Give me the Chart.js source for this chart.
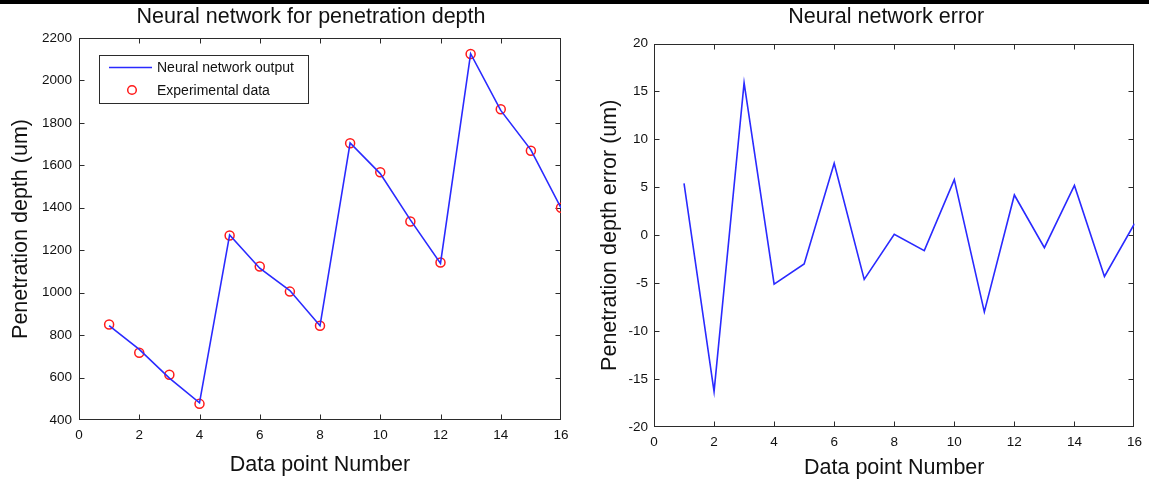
<!DOCTYPE html>
<html>
<head>
<meta charset="utf-8">
<script src="https://cdn.jsdelivr.net/npm/chart.js@4.4.1/dist/chart.umd.min.js"></script>
<style>
  html, body { margin: 0; padding: 0; background: #fff; }
  #wrap { position: relative; width: 1149px; height: 482px; overflow: hidden; background: #fff; }
  #topbar { position: absolute; left: 0; top: 0; width: 1149px; height: 4px; background: #000; z-index: 5; }
  #c1 { position: absolute; left: 0; top: 0; }
  #c2 { position: absolute; left: 585px; top: 0; }
</style>
</head>
<body>
<div id="wrap">
  <div id="topbar"></div>
  <canvas id="c1" width="580" height="482"></canvas>
  <canvas id="c2" width="564" height="482"></canvas>
</div>
<script>
// ---- data ----
const pointNumbers = [1, 2, 3, 4, 5, 6, 7, 8, 9, 10, 11, 12, 13, 14, 15, 16];
const experimentalDepth = [850, 717, 613, 476, 1269, 1123, 1005, 844, 1704, 1567, 1335, 1142, 2125, 1864, 1669, 1400];
const networkOutput = [845, 733, 597, 481, 1272, 1115, 1010, 844, 1706, 1561, 1343, 1138, 2126, 1859, 1673, 1399];
const depthError = [5.4, -16.3, 15.9, -5.1, -3.0, 7.5, -4.6, 0.1, -1.6, 5.8, -8.0, 4.2, -1.3, 5.2, -4.3, 1.2];
const pointTicks = [0, 2, 4, 6, 8, 10, 12, 14, 16];
const depthTicks = [400, 600, 800, 1000, 1200, 1400, 1600, 1800, 2000, 2200];
const errorTicks = [-20, -15, -10, -5, 0, 5, 10, 15, 20];

const FONT = '"Liberation Sans", Arial, Helvetica, sans-serif';
Chart.defaults.font.family = FONT;
Chart.defaults.color = '#111';

const toXY = (xs, ys) => xs.map((x, i) => ({ x: x, y: ys[i] }));

// MATLAB-like box with inward ticks
const framePlugin = {
  id: 'frame',
  afterLayout(chart, args, opts) {
    const shift = (opts && opts.titleShift) || 0;
    if (chart.titleBlock) {
      chart.titleBlock.left += shift;
      chart.titleBlock.right += shift;
    }
  },
  beforeDatasetsDraw(chart) {
    const { ctx, chartArea: a, scales } = chart;
    ctx.save();
    ctx.strokeStyle = '#2b2b2b';
    ctx.lineWidth = 1;
    const L = Math.round(a.left) + 0.5, R = Math.round(a.right) - 0.5;
    const T = Math.round(a.top) + 0.5, B = Math.round(a.bottom) - 0.5;
    ctx.strokeRect(L, T, R - L, B - T);
    const len = 5;
    const clamp = (v, lo, hi) => Math.min(hi, Math.max(lo, v));
    ctx.beginPath();
    scales.x.ticks.forEach(t => {
      const px = clamp(Math.round(scales.x.getPixelForValue(t.value)) + 0.5, L, R);
      ctx.moveTo(px, B); ctx.lineTo(px, B - len);
      ctx.moveTo(px, T); ctx.lineTo(px, T + len);
    });
    scales.y.ticks.forEach(t => {
      const py = clamp(Math.round(scales.y.getPixelForValue(t.value)) + 0.5, T, B);
      ctx.moveTo(L, py); ctx.lineTo(L + len, py);
      ctx.moveTo(R, py); ctx.lineTo(R - len, py);
    });
    ctx.stroke();
    ctx.restore();
  }
};

// boxed legend in the upper-left corner (left chart)
const boxLegendPlugin = {
  id: 'boxLegend',
  afterDraw(chart, args, opts) {
    if (!opts || !opts.show) return;
    const { ctx } = chart;
    const ds = chart.data.datasets;
    const x0 = opts.x, y0 = opts.y, w = opts.w, h = opts.h;
    ctx.save();
    ctx.fillStyle = '#fff';
    ctx.fillRect(x0, y0, w, h);
    ctx.strokeStyle = '#2b2b2b';
    ctx.lineWidth = 1;
    ctx.strokeRect(x0 + 0.5, y0 + 0.5, w, h);
    ctx.font = '14px ' + FONT;
    ctx.fillStyle = '#111';
    ctx.textBaseline = 'middle';
    ctx.textAlign = 'left';
    const y1 = y0 + 12.5, y2 = y0 + 35;
    ctx.strokeStyle = ds[0].borderColor;
    ctx.lineWidth = 1.6;
    ctx.beginPath(); ctx.moveTo(x0 + 10, y1); ctx.lineTo(x0 + 53, y1); ctx.stroke();
    ctx.fillText(ds[0].label, x0 + 58, y1 + 1);
    ctx.strokeStyle = ds[1].pointBorderColor;
    ctx.lineWidth = 1.5;
    ctx.beginPath(); ctx.arc(x0 + 33, y2, 4.3, 0, Math.PI * 2); ctx.stroke();
    ctx.fillText(ds[1].label, x0 + 58, y2 + 1);
    ctx.restore();
  }
};

function makeOptions(cfg) {
  const tickFont = { size: 13.5 };
  const labelFont = { size: 21.5, weight: 'normal', lineHeight: 1.2 };
  return {
    responsive: false,
    animation: false,
    layout: { padding: { left: 0, right: cfg.padRight, top: 0, bottom: 0 } },
    plugins: {
      legend: { display: false },
      tooltip: { enabled: false },
      title: {
        display: true,
        text: cfg.title,
        fullSize: false,
        color: '#111',
        font: labelFont,
        padding: { top: 4.6, bottom: cfg.titleBottom }
      },
      frame: { titleShift: cfg.titleShift },
      boxLegend: cfg.legend || { show: false }
    },
    scales: {
      x: {
        type: 'linear',
        min: 0, max: 16,
        afterBuildTicks: s => { s.ticks = pointTicks.map(v => ({ value: v })); },
        afterFit: s => { s.height = cfg.xHeight; },
        grid: { display: false, drawTicks: false },
        border: { display: false },
        ticks: { font: tickFont, color: '#111', padding: 7, maxRotation: 0, callback: v => String(v) },
        title: {
          display: true, text: 'Data point Number', color: '#111',
          font: labelFont,
          padding: { top: 0, bottom: cfg.xTitleBottom }
        }
      },
      y: {
        type: 'linear',
        min: cfg.yMin, max: cfg.yMax,
        afterBuildTicks: s => { s.ticks = cfg.yTicks.map(v => ({ value: v })); },
        afterFit: s => { s.width = cfg.yWidth; },
        grid: { display: false, drawTicks: false },
        border: { display: false },
        ticks: { font: tickFont, color: '#111', padding: cfg.yTickPad, callback: v => String(v) },
        title: {
          display: true, text: cfg.yTitle, color: '#111',
          font: labelFont,
          padding: { top: cfg.yTitleTop, bottom: 0 }
        }
      }
    }
  };
}

new Chart(document.getElementById('c1'), {
  type: 'line',
  data: {
    datasets: [
      {
        label: 'Neural network output',
        data: toXY(pointNumbers, networkOutput),
        borderColor: '#2a2aff',
        borderWidth: 1.6,
        pointRadius: 0,
        fill: false,
        tension: 0
      },
      {
        label: 'Experimental data',
        data: toXY(pointNumbers, experimentalDepth),
        showLine: false,
        pointStyle: 'circle',
        pointRadius: 4.5,
        pointBorderWidth: 1.5,
        pointBorderColor: '#ff1a1a',
        pointBackgroundColor: 'rgba(0,0,0,0)',
        borderColor: '#ff1a1a'
      }
    ]
  },
  options: makeOptions({
    title: 'Neural network for penetration depth', titleShift: -9,
    padRight: 19, titleBottom: 7.6, xHeight: 62, xTitleBottom: 4.5,
    yMin: 400, yMax: 2200, yTicks: depthTicks, yWidth: 79, yTickPad: 7,
    yTitle: 'Penetration depth (um)', yTitleTop: 8,
    legend: { show: true, x: 99, y: 55, w: 209, h: 48 }
  }),
  plugins: [framePlugin, boxLegendPlugin]
});

new Chart(document.getElementById('c2'), {
  type: 'line',
  data: {
    datasets: [
      {
        label: 'Neural network error',
        data: toXY(pointNumbers, depthError),
        borderColor: '#2a2aff',
        borderWidth: 1.6,
        pointRadius: 0,
        fill: false,
        tension: 0
      }
    ]
  },
  options: makeOptions({
    title: 'Neural network error', titleShift: -8,
    padRight: 10, titleBottom: 13.1, xHeight: 55, xTitleBottom: 1,
    yMin: -20, yMax: 20, yTicks: errorTicks, yWidth: 69, yTickPad: 6,
    yTitle: 'Penetration depth error (um)', yTitleTop: 12.4
  }),
  plugins: [framePlugin, boxLegendPlugin]
});
</script>
</body>
</html>
